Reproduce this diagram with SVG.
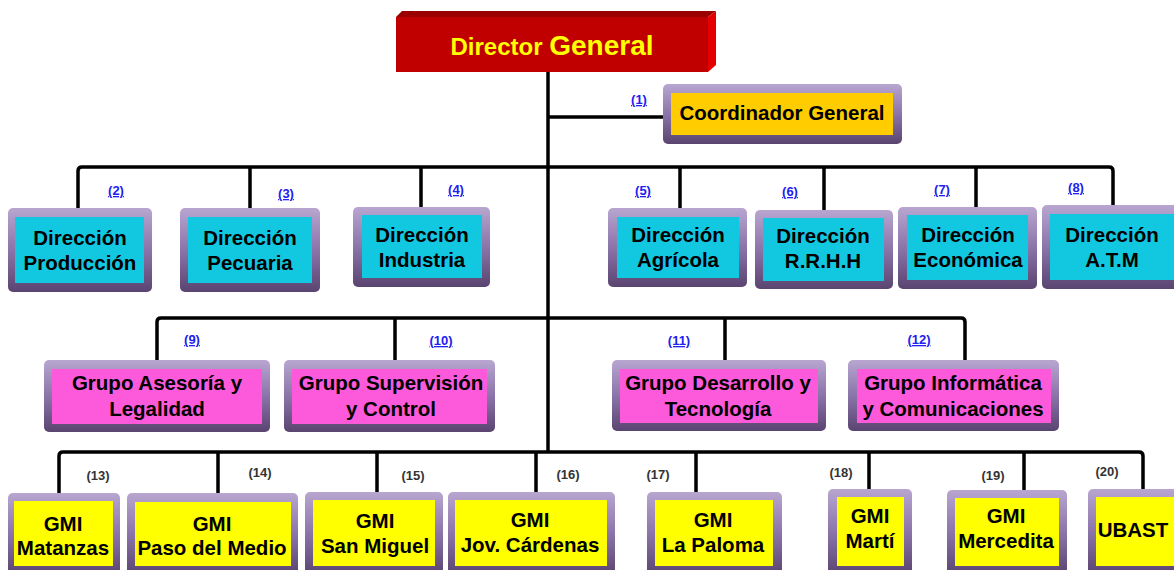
<svg xmlns="http://www.w3.org/2000/svg" width="1174" height="570" viewBox="0 0 1174 570">
  <defs>
    <linearGradient id="frameGrad" x1="0" y1="0" x2="0" y2="1">
      <stop offset="0" stop-color="#b8a6d0"/>
      <stop offset="0.5" stop-color="#8b74a9"/>
      <stop offset="1" stop-color="#5a4470"/>
    </linearGradient>
    <style>
      .frame { fill: url(#frameGrad); }
      .cyan { fill: #12c8e0; }
      .pink { fill: #fc5ada; }
      .yellow { fill: #ffff00; }
      .gold { fill: #ffcc00; }
      .t { font-family: "Liberation Sans", Arial, sans-serif; font-weight: bold; font-size: 20.5px; fill: #000; text-anchor: middle; }
      .num { font-family: "Liberation Sans", Arial, sans-serif; font-weight: bold; font-size: 13px; fill: #2020f0; text-anchor: middle; text-decoration: underline; }
      .num2 { font-family: "Liberation Sans", Arial, sans-serif; font-weight: bold; font-size: 13px; fill: #333; text-anchor: middle; }
      .wire { fill: none; stroke: #000; stroke-width: 3.5; stroke-linejoin: round; }
    </style>
  </defs>

  <rect width="1174" height="570" fill="#fff"/>

  <!-- connectors -->
  <g id="connectors" class="wire">
    <path d="M548 72 V453"/>
    <path d="M548 117 H672"/>
    <path d="M78 208 V171 Q78 167 82 167 H1109 Q1113 167 1113 171 V206"/>
    <path d="M250 167 V210 M421 167 V207 M680 167 V209 M824 167 V212 M976 167 V208"/>
    <path d="M157 364 V322 Q157 318 161 318 H961 Q965 318 965 322 V361"/>
    <path d="M395 318 V364 M725 318 V361"/>
    <path d="M59 493 V456 Q59 452 63 452 H1139 Q1143 452 1143 456 V489"/>
    <path d="M218 452 V493 M377 452 V492 M536 452 V492 M696 452 V492 M869 452 V489 M1024 452 V490"/>
  </g>

  <!-- top: extruded red box -->
  <g id="director-general">
    <polygon points="396,17 402,11 716,11 708,17" fill="#9a0000"/>
    <polygon points="708,17 716,11 716,65 708,72" fill="#e40000"/>
    <rect x="396" y="17" width="312" height="55" fill="#c00000"/>
    <text x="552" y="55" text-anchor="middle" font-family="Liberation Sans, Arial, sans-serif" font-weight="bold" fill="#ffff00"><tspan font-size="24">Director </tspan><tspan font-size="28">General</tspan></text>
  </g>

  <g id="coordinador-general">
    <rect class="frame" x="663" y="84" width="239" height="60" rx="5"/>
    <rect class="gold" x="671" y="93" width="222" height="42"/>
    <text class="t" x="782" y="120">Coordinador General</text>
    <text class="num" x="639" y="104">(1)</text>
  </g>

  <!-- direcciones -->
  <g id="dir-produccion">
    <rect class="frame" x="8" y="208" width="144" height="84" rx="5"/>
    <rect class="cyan" x="15" y="217" width="129" height="66"/>
    <text class="t" x="80" y="245">Dirección</text>
    <text class="t" x="80" y="270">Producción</text>
    <text class="num" x="116" y="195">(2)</text>
  </g>
  <g id="dir-pecuaria">
    <rect class="frame" x="180" y="208" width="140" height="84" rx="5"/>
    <rect class="cyan" x="188" y="217" width="124" height="66"/>
    <text class="t" x="250" y="245">Dirección</text>
    <text class="t" x="250" y="270">Pecuaria</text>
    <text class="num" x="286" y="198">(3)</text>
  </g>
  <g id="dir-industria">
    <rect class="frame" x="353" y="207" width="137" height="80" rx="5"/>
    <rect class="cyan" x="362" y="215" width="120" height="63"/>
    <text class="t" x="422" y="242">Dirección</text>
    <text class="t" x="422" y="267">Industria</text>
    <text class="num" x="456" y="194">(4)</text>
  </g>
  <g id="dir-agricola">
    <rect class="frame" x="608" y="208" width="139" height="79" rx="5"/>
    <rect class="cyan" x="617" y="217" width="122" height="61"/>
    <text class="t" x="678" y="242">Dirección</text>
    <text class="t" x="678" y="267">Agrícola</text>
    <text class="num" x="643" y="195">(5)</text>
  </g>
  <g id="dir-rrhh">
    <rect class="frame" x="755" y="210" width="138" height="79" rx="5"/>
    <rect class="cyan" x="763" y="218" width="121" height="63"/>
    <text class="t" x="823" y="243">Dirección</text>
    <text class="t" x="823" y="268">R.R.H.H</text>
    <text class="num" x="790" y="196">(6)</text>
  </g>
  <g id="dir-economica">
    <rect class="frame" x="898" y="207" width="139" height="82" rx="5"/>
    <rect class="cyan" x="907" y="215" width="121" height="65"/>
    <text class="t" x="968" y="242">Dirección</text>
    <text class="t" x="968" y="267">Económica</text>
    <text class="num" x="942" y="194">(7)</text>
  </g>
  <g id="dir-atm">
    <rect class="frame" x="1042" y="205" width="140" height="84" rx="5"/>
    <rect class="cyan" x="1050" y="214" width="130" height="66"/>
    <text class="t" x="1112" y="242">Dirección</text>
    <text class="t" x="1112" y="267">A.T.M</text>
    <text class="num" x="1076" y="192">(8)</text>
  </g>

  <!-- grupos -->
  <g id="grupo-asesoria">
    <rect class="frame" x="44" y="360" width="226" height="72" rx="5"/>
    <rect class="pink" x="52" y="369" width="210" height="55"/>
    <text class="t" x="157" y="390">Grupo Asesoría y</text>
    <text class="t" x="157" y="416">Legalidad</text>
    <text class="num" x="192" y="344">(9)</text>
  </g>
  <g id="grupo-supervision">
    <rect class="frame" x="284" y="360" width="211" height="72" rx="5"/>
    <rect class="pink" x="292" y="369" width="195" height="55"/>
    <text class="t" x="391" y="390">Grupo Supervisión</text>
    <text class="t" x="391" y="416">y Control</text>
    <text class="num" x="441" y="345">(10)</text>
  </g>
  <g id="grupo-desarrollo">
    <rect class="frame" x="612" y="360" width="214" height="71" rx="5"/>
    <rect class="pink" x="620" y="369" width="198" height="54"/>
    <text class="t" x="718" y="390">Grupo Desarrollo y</text>
    <text class="t" x="718" y="416">Tecnología</text>
    <text class="num" x="679" y="345">(11)</text>
  </g>
  <g id="grupo-informatica">
    <rect class="frame" x="848" y="360" width="211" height="71" rx="5"/>
    <rect class="pink" x="857" y="369" width="194" height="54"/>
    <text class="t" x="953" y="390">Grupo Informática</text>
    <text class="t" x="953" y="416">y Comunicaciones</text>
    <text class="num" x="919" y="344">(12)</text>
  </g>

  <!-- GMI units -->
  <g id="gmi-matanzas">
    <rect class="frame" x="8" y="493" width="112" height="82" rx="5"/>
    <rect class="yellow" x="14" y="501" width="99" height="65"/>
    <text class="t" x="63" y="531">GMI</text>
    <text class="t" x="63" y="555">Matanzas</text>
    <text class="num2" x="98" y="480">(13)</text>
  </g>
  <g id="gmi-paso-del-medio">
    <rect class="frame" x="127" y="493" width="171" height="82" rx="5"/>
    <rect class="yellow" x="135" y="502" width="156" height="64"/>
    <text class="t" x="212" y="531">GMI</text>
    <text class="t" x="212" y="555">Paso del Medio</text>
    <text class="num2" x="260" y="477">(14)</text>
  </g>
  <g id="gmi-san-miguel">
    <rect class="frame" x="305" y="492" width="138" height="83" rx="5"/>
    <rect class="yellow" x="313" y="500" width="122" height="66"/>
    <text class="t" x="375" y="528">GMI</text>
    <text class="t" x="375" y="553">San Miguel</text>
    <text class="num2" x="413" y="480">(15)</text>
  </g>
  <g id="gmi-jov-cardenas">
    <rect class="frame" x="448" y="492" width="167" height="83" rx="5"/>
    <rect class="yellow" x="455" y="500" width="152" height="66"/>
    <text class="t" x="530" y="527">GMI</text>
    <text class="t" x="530" y="552">Jov. Cárdenas</text>
    <text class="num2" x="568" y="479">(16)</text>
  </g>
  <g id="gmi-la-paloma">
    <rect class="frame" x="647" y="492" width="135" height="83" rx="5"/>
    <rect class="yellow" x="655" y="500" width="118" height="66"/>
    <text class="t" x="713" y="527">GMI</text>
    <text class="t" x="713" y="552">La Paloma</text>
    <text class="num2" x="658" y="479">(17)</text>
  </g>
  <g id="gmi-marti">
    <rect class="frame" x="828" y="489" width="84" height="86" rx="5"/>
    <rect class="yellow" x="837" y="497" width="67" height="69"/>
    <text class="t" x="870" y="523">GMI</text>
    <text class="t" x="870" y="548">Martí</text>
    <text class="num2" x="841" y="477">(18)</text>
  </g>
  <g id="gmi-mercedita">
    <rect class="frame" x="947" y="490" width="120" height="85" rx="5"/>
    <rect class="yellow" x="955" y="498" width="104" height="68"/>
    <text class="t" x="1006" y="523">GMI</text>
    <text class="t" x="1006" y="548">Mercedita</text>
    <text class="num2" x="993" y="480">(19)</text>
  </g>
  <g id="ubast">
    <rect class="frame" x="1088" y="489" width="94" height="86" rx="5"/>
    <rect class="yellow" x="1096" y="497" width="84" height="69"/>
    <text class="t" x="1133" y="537">UBAST</text>
    <text class="num2" x="1107" y="476">(20)</text>
  </g>
</svg>
